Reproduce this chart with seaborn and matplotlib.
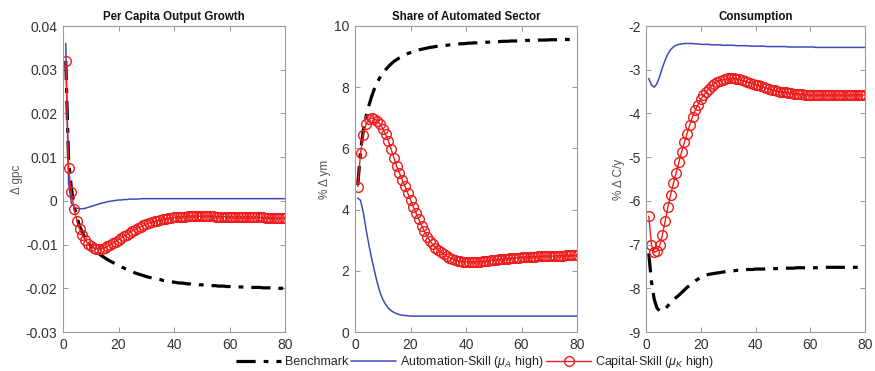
import matplotlib
matplotlib.use("Agg")
import matplotlib.pyplot as plt
import seaborn as sns

# --- data (periods 1..80) ---
periods = list(range(1, 81))

gpc_bench = [0.032, 0.0095, 0.003, -0.001, -0.0038, -0.0058, -0.0073, -0.0085, -0.0095, -0.0103,
             -0.011, -0.0116, -0.0121, -0.0126, -0.013, -0.0134, -0.0138, -0.0141, -0.0145, -0.0148,
             -0.0151, -0.0154, -0.0157, -0.016, -0.0162, -0.0165, -0.0167, -0.0169, -0.0171, -0.0173,
             -0.0175, -0.0176, -0.0178, -0.0179, -0.018, -0.0182, -0.0183, -0.0184, -0.0185, -0.0186,
             -0.0187, -0.0188, -0.0188, -0.0189, -0.019, -0.019, -0.0191, -0.0191, -0.0192, -0.0192,
             -0.0193, -0.0193, -0.0194, -0.0194, -0.0194, -0.0195, -0.0195, -0.0195, -0.0196, -0.0196,
             -0.0196, -0.0196, -0.0197, -0.0197, -0.0197, -0.0197, -0.0198, -0.0198, -0.0198, -0.0198,
             -0.0198, -0.0199, -0.0199, -0.0199, -0.0199, -0.0199, -0.0199, -0.02, -0.02, -0.02]
gpc_auto = [0.036, 0.004, -0.0005, -0.0014, -0.0017, -0.0018, -0.0018, -0.0017, -0.0015, -0.0013,
            -0.0011, -0.0009, -0.0007, -0.0005, -0.0004, -0.0002, -0.0001, 0.0, 0.0001, 0.0002,
            0.0002, 0.0003, 0.0003, 0.0004, 0.0004, 0.0004, 0.0004, 0.0005, 0.0005, 0.0005,
            0.0005, 0.0005, 0.0005, 0.0005, 0.0005, 0.0005, 0.0005, 0.0005, 0.0005, 0.0005,
            0.0005, 0.0005, 0.0005, 0.0005, 0.0005, 0.0005, 0.0005, 0.0005, 0.0005, 0.0005,
            0.0005, 0.0005, 0.0005, 0.0005, 0.0005, 0.0005, 0.0005, 0.0005, 0.0005, 0.0005,
            0.0005, 0.0005, 0.0005, 0.0005, 0.0005, 0.0005, 0.0005, 0.0005, 0.0005, 0.0005,
            0.0005, 0.0005, 0.0005, 0.0005, 0.0005, 0.0005, 0.0005, 0.0005, 0.0005, 0.0005]
gpc_cap = [0.032, 0.0075, 0.002, -0.0018, -0.0045, -0.0064, -0.0079, -0.009, -0.0098, -0.0104,
           -0.0108, -0.011, -0.011, -0.0109, -0.0107, -0.0104, -0.0101, -0.0097, -0.0093, -0.0089,
           -0.0085, -0.0081, -0.0077, -0.0073, -0.0069, -0.0066, -0.0062, -0.0059, -0.0056, -0.0053,
           -0.0051, -0.0049, -0.0047, -0.0045, -0.0044, -0.0042, -0.0041, -0.004, -0.0039, -0.0038,
           -0.0037, -0.0037, -0.0036, -0.0036, -0.0035, -0.0035, -0.0035, -0.0035, -0.0035, -0.0035,
           -0.0035, -0.0035, -0.0035, -0.0035, -0.0036, -0.0036, -0.0036, -0.0036, -0.0037, -0.0037,
           -0.0037, -0.0037, -0.0037, -0.0037, -0.0038, -0.0038, -0.0038, -0.0038, -0.0038, -0.0038,
           -0.0038, -0.0038, -0.0039, -0.0039, -0.0039, -0.0039, -0.0039, -0.0039, -0.0039, -0.0039]

ym_bench = [4.8, 5.9, 6.6, 7.05, 7.4, 7.7, 7.95, 8.15, 8.32, 8.46,
            8.57, 8.67, 8.76, 8.84, 8.9, 8.96, 9.01, 9.06, 9.1, 9.13,
            9.16, 9.19, 9.22, 9.24, 9.26, 9.28, 9.3, 9.31, 9.33, 9.34,
            9.35, 9.36, 9.37, 9.38, 9.39, 9.4, 9.41, 9.42, 9.42, 9.43,
            9.44, 9.44, 9.45, 9.45, 9.46, 9.46, 9.47, 9.47, 9.48, 9.48,
            9.49, 9.49, 9.5, 9.5, 9.5, 9.51, 9.51, 9.51, 9.52, 9.52,
            9.52, 9.53, 9.53, 9.53, 9.53, 9.54, 9.54, 9.54, 9.54, 9.55,
            9.55, 9.55, 9.55, 9.55, 9.56, 9.56, 9.56, 9.56, 9.56, 9.57]
ym_auto = [4.38, 4.3, 3.9, 3.35, 2.85, 2.4, 2.0, 1.62, 1.3, 1.07,
           0.9, 0.78, 0.7, 0.64, 0.6, 0.57, 0.55, 0.54, 0.53, 0.52,
           0.52, 0.52, 0.52, 0.52, 0.52, 0.52, 0.52, 0.52, 0.52, 0.52,
           0.52, 0.52, 0.52, 0.52, 0.52, 0.52, 0.52, 0.52, 0.52, 0.52,
           0.52, 0.52, 0.52, 0.52, 0.52, 0.52, 0.52, 0.52, 0.52, 0.52,
           0.52, 0.52, 0.52, 0.52, 0.52, 0.52, 0.52, 0.52, 0.52, 0.52,
           0.52, 0.52, 0.52, 0.52, 0.52, 0.52, 0.52, 0.52, 0.52, 0.52,
           0.52, 0.52, 0.52, 0.52, 0.52, 0.52, 0.52, 0.52, 0.52, 0.52]
ym_cap = [4.75, 5.85, 6.45, 6.8, 6.95, 7.0, 6.97, 6.9, 6.8, 6.65,
          6.46, 6.25, 5.98, 5.7, 5.42, 5.2, 4.98, 4.76, 4.54, 4.32,
          4.1, 3.89, 3.68, 3.48, 3.29, 3.12, 2.98, 2.86, 2.76, 2.67,
          2.6, 2.54, 2.48, 2.43, 2.39, 2.36, 2.33, 2.31, 2.3, 2.29,
          2.29, 2.29, 2.29, 2.3, 2.3, 2.31, 2.32, 2.33, 2.34, 2.35,
          2.36, 2.37, 2.38, 2.39, 2.4, 2.41, 2.42, 2.42, 2.43, 2.44,
          2.44, 2.45, 2.45, 2.46, 2.46, 2.47, 2.47, 2.47, 2.48, 2.48,
          2.48, 2.49, 2.49, 2.49, 2.49, 2.5, 2.5, 2.5, 2.5, 2.5]

cy_bench = [-7.2, -7.85, -8.25, -8.45, -8.52, -8.52, -8.47, -8.4, -8.33, -8.27,
            -8.21, -8.16, -8.1, -8.04, -7.98, -7.93, -7.88, -7.83, -7.79, -7.75,
            -7.72, -7.7, -7.68, -7.67, -7.66, -7.65, -7.64, -7.63, -7.62, -7.61,
            -7.6, -7.6, -7.59, -7.59, -7.58, -7.58, -7.57, -7.57, -7.57, -7.56,
            -7.56, -7.56, -7.56, -7.55, -7.55, -7.55, -7.55, -7.55, -7.54, -7.54,
            -7.54, -7.54, -7.54, -7.54, -7.53, -7.53, -7.53, -7.53, -7.53, -7.53,
            -7.53, -7.53, -7.53, -7.52, -7.52, -7.52, -7.52, -7.52, -7.52, -7.52,
            -7.52, -7.52, -7.52, -7.52, -7.52, -7.52, -7.52, -7.52, -7.52, -7.52]
cy_auto = [-3.2, -3.35, -3.4, -3.32, -3.15, -2.95, -2.78, -2.64, -2.54, -2.48,
           -2.44, -2.42, -2.41, -2.4, -2.4, -2.4, -2.4, -2.41, -2.41, -2.42,
           -2.42, -2.42, -2.42, -2.43, -2.43, -2.43, -2.43, -2.44, -2.44, -2.44,
           -2.44, -2.44, -2.45, -2.45, -2.45, -2.45, -2.45, -2.46, -2.46, -2.46,
           -2.46, -2.46, -2.46, -2.47, -2.47, -2.47, -2.47, -2.47, -2.47, -2.47,
           -2.47, -2.48, -2.48, -2.48, -2.48, -2.48, -2.48, -2.48, -2.48, -2.48,
           -2.48, -2.49, -2.49, -2.49, -2.49, -2.49, -2.49, -2.49, -2.49, -2.49,
           -2.49, -2.49, -2.49, -2.49, -2.49, -2.49, -2.49, -2.49, -2.49, -2.49]
cy_cap = [-6.35, -7.0, -7.18, -7.15, -7.02, -6.78, -6.46, -6.14, -5.86, -5.6,
          -5.36, -5.12, -4.88, -4.66, -4.46, -4.26, -4.08, -3.93, -3.8, -3.68,
          -3.58, -3.5, -3.43, -3.37, -3.32, -3.28, -3.25, -3.23, -3.21, -3.2,
          -3.2, -3.2, -3.21, -3.22, -3.24, -3.26, -3.28, -3.3, -3.32, -3.34,
          -3.36, -3.38, -3.4, -3.42, -3.44, -3.46, -3.47, -3.49, -3.5, -3.51,
          -3.52, -3.53, -3.54, -3.55, -3.55, -3.56, -3.56, -3.57, -3.57, -3.58,
          -3.58, -3.58, -3.58, -3.58, -3.58, -3.58, -3.58, -3.58, -3.58, -3.58,
          -3.58, -3.58, -3.58, -3.58, -3.58, -3.58, -3.58, -3.58, -3.58, -3.58]

titles = ["Per Capita Output Growth", "Share of Automated Sector", "Consumption"]
ylabels = ["\u0394 gpc", "% \u0394 ym", "% \u0394 C/y"]
yticks = [[-0.03, -0.02, -0.01, 0, 0.01, 0.02, 0.03, 0.04],
          [0, 2, 4, 6, 8, 10],
          [-9, -8, -7, -6, -5, -4, -3, -2]]
ytick_labels = [["-0.03", "-0.02", "-0.01", "0", "0.01", "0.02", "0.03", "0.04"],
                ["0", "2", "4", "6", "8", "10"],
                ["-9", "-8", "-7", "-6", "-5", "-4", "-3", "-2"]]
xticks = [0, 20, 40, 60, 80]
series_names = ["Benchmark", "Automation-Skill ($\\mu_A$ high)", "Capital-Skill ($\\mu_K$ high)"]
panels = [(gpc_bench, gpc_auto, gpc_cap), (ym_bench, ym_auto, ym_cap), (cy_bench, cy_auto, cy_cap)]

# --- style ---
sns.set_theme(style="white")
plt.rcParams["font.family"] = ["Liberation Sans", "DejaVu Sans"]
plt.rcParams["mathtext.fontset"] = "custom"
plt.rcParams["mathtext.it"] = "Liberation Sans:italic"
plt.rcParams["mathtext.rm"] = "Liberation Sans"

fig = plt.figure(figsize=(8.75, 3.71), dpi=100)
boxes = [(63, 222), (355, 222), (646, 219)]
axes = [fig.add_axes([l / 875, 39 / 371, w / 875, 306 / 371]) for l, w in boxes]

for i, ax in enumerate(axes):
    bench, auto, cap = panels[i]
    sns.lineplot(x=periods, y=bench, ax=ax, color="black", linewidth=2.3, label=series_names[0])
    ax.lines[-1].set_dashes([6, 2.5, 1.5, 2.5])
    sns.lineplot(x=periods, y=auto, ax=ax, color="#3c4bb8", linewidth=1.1, label=series_names[1])
    sns.lineplot(x=periods, y=cap, ax=ax, color="#ee1c1c", linewidth=1.0, marker="o",
                 markersize=7, markerfacecolor="none", markeredgecolor="#ee1c1c",
                 markeredgewidth=1.0, label=series_names[2])
    ax.set_xlim(0, 80)
    ax.set_ylim(yticks[i][0], yticks[i][-1])
    ax.set_xticks(xticks)
    ax.set_yticks(yticks[i])
    ax.set_yticklabels(ytick_labels[i])
    ax.tick_params(direction="in", length=3.5, width=0.6, colors="#8a8a8a",
                   labelcolor="#333333", labelsize=10, top=True, right=True,
                   bottom=True, left=True, pad=4)
    for sp in ax.spines.values():
        sp.set_color("#9a9a9a")
        sp.set_linewidth(0.8)
    ax.set_title(titles[i], fontsize=8.3, fontweight="bold", pad=4, color="#111111")
    ax.set_ylabel(ylabels[i], fontsize=8.5, color="#555555", labelpad=2)
    ax.get_legend().remove()

handles, labels = axes[0].get_legend_handles_labels()
fig.legend(handles, labels, loc="center", bbox_to_anchor=(0.543, 0.024), ncol=3,
           frameon=False, fontsize=9, handlelength=3.6, columnspacing=0.25,
           handletextpad=0.3, borderaxespad=0)

fig.savefig("out.png", dpi=100, facecolor="white")
